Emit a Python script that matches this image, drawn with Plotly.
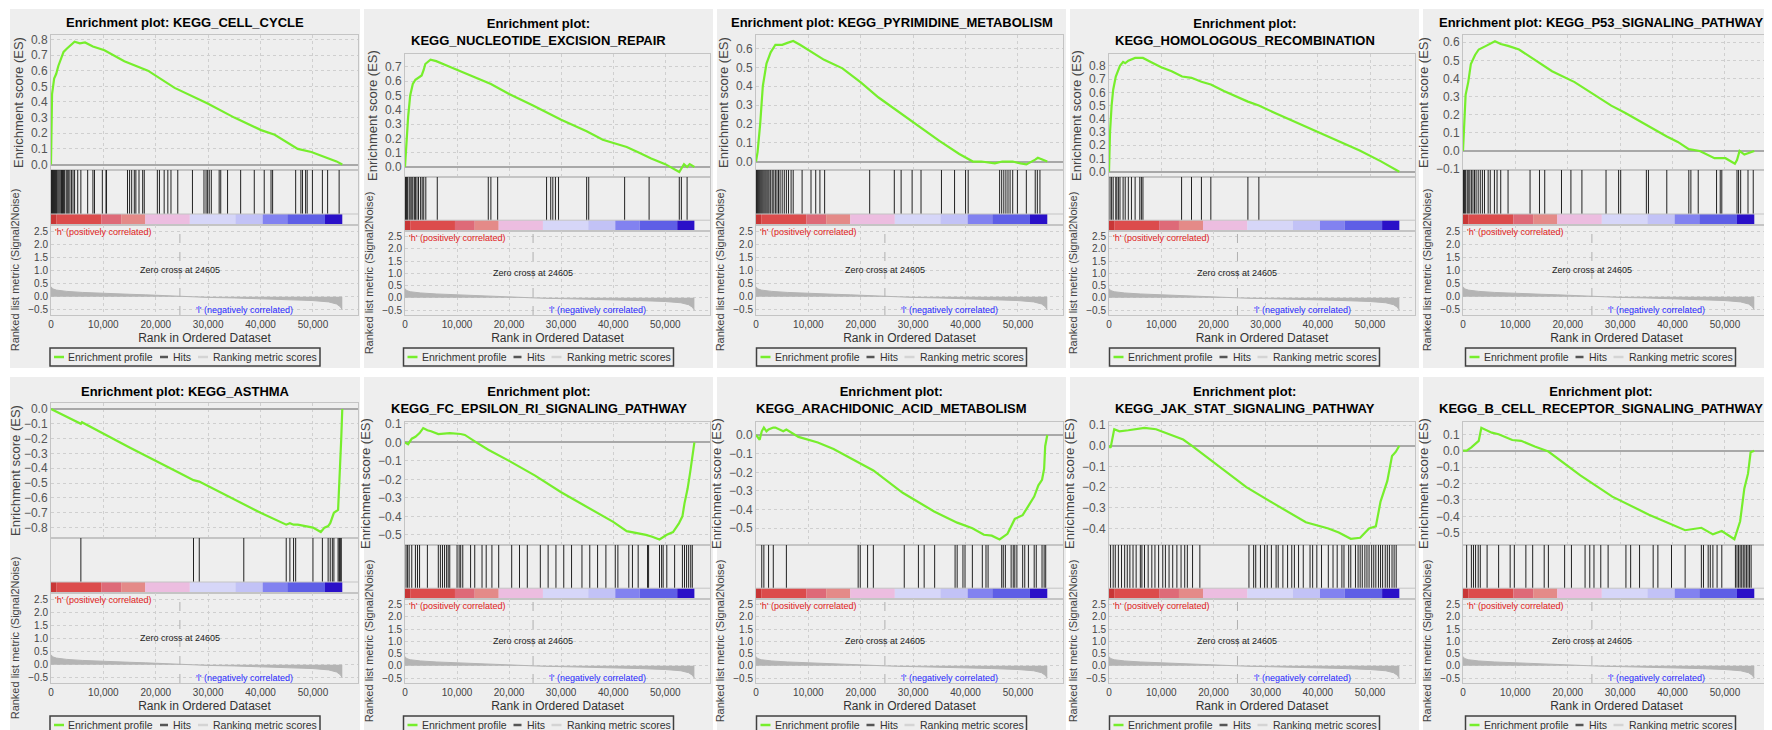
import plotly.graph_objects as go

# GSEA enrichment plots, 2 rows x 5 columns.
# All ranks are written in thousands (K) to keep the lists short.
K = 1000
N_GENES = 55.6          # end of the ranked list (thousands)
X_MAX = 58.6            # right edge of the rank axis (thousands)
ZERO_CROSS = 24605

TITLES = [
    "Enrichment plot: KEGG_CELL_CYCLE",
    "Enrichment plot:<br>KEGG_NUCLEOTIDE_EXCISION_REPAIR",
    "Enrichment plot: KEGG_PYRIMIDINE_METABOLISM",
    "Enrichment plot:<br>KEGG_HOMOLOGOUS_RECOMBINATION",
    "Enrichment plot: KEGG_P53_SIGNALING_PATHWAY",
    "Enrichment plot: KEGG_ASTHMA",
    "Enrichment plot:<br>KEGG_FC_EPSILON_RI_SIGNALING_PATHWAY",
    "Enrichment plot:<br>KEGG_ARACHIDONIC_ACID_METABOLISM",
    "Enrichment plot:<br>KEGG_JAK_STAT_SIGNALING_PATHWAY",
    "Enrichment plot:<br>KEGG_B_CELL_RECEPTOR_SIGNALING_PATHWAY",
]
LEGEND_NAMES = ["Enrichment profile", "Hits", "Ranking metric scores"]

# ---- running enrichment score (rank in thousands, ES) ----
CC_RANK = [0, 0.2, 0.6, 1.0, 1.4, 1.9, 2.4, 3.0, 3.6, 4.5, 5.5, 6.5, 8.0, 10.2, 14, 18.5,
           23.6, 29.9, 35, 40.1, 42.7, 45, 47.1, 49.7, 52.9, 54.5, 55.6]
CC_ES = [0, 0.45, 0.55, 0.58, 0.63, 0.67, 0.72, 0.74, 0.76, 0.785, 0.775, 0.78, 0.755, 0.73,
         0.66, 0.60, 0.49, 0.39, 0.30, 0.22, 0.19, 0.14, 0.10, 0.08, 0.04, 0.02, 0.0]

NER_RANK = [0, 0.3, 0.6, 1.0, 1.5, 2.0, 2.5, 3.2, 3.6, 3.9, 4.9, 6.0, 8.0, 10, 13, 16.5, 20,
            24.6, 30, 34.9, 38, 42.6, 45, 47.3, 50, 52.7, 53.6, 54.2, 54.7, 55.6]
NER_ES = [0, 0.2, 0.35, 0.5, 0.58, 0.61, 0.62, 0.64, 0.68, 0.72, 0.75, 0.74, 0.71, 0.68, 0.63,
          0.58, 0.51, 0.43, 0.33, 0.25, 0.19, 0.14, 0.10, 0.06, 0.02, -0.035, 0.02, 0.0, 0.02, 0.0]

PYR_RANK = [0, 0.3, 0.8, 1.3, 2.0, 2.8, 3.7, 5.0, 6.0, 7.1, 8.4, 10.5, 13, 16.5, 20, 23.4, 28,
            31.9, 35, 38.8, 41.4, 43, 45.6, 47, 49, 50.5, 51.6, 53.3, 53.8, 55.6]
PYR_ES = [0, 0.05, 0.2, 0.4, 0.52, 0.58, 0.62, 0.62, 0.63, 0.64, 0.62, 0.585, 0.54, 0.495,
          0.42, 0.34, 0.25, 0.17, 0.11, 0.04, 0.0, 0.0, -0.01, 0.0, 0.0, -0.01, -0.015, 0.01,
          0.02, 0.0]

HR_RANK = [0, 0.2, 0.5, 0.8, 1.3, 1.8, 2.1, 2.7, 3.1, 3.7, 4.3, 5.0, 5.9, 6.5, 8, 10, 12, 14,
           15.8, 17.7, 19.5, 22, 26.6, 28.7, 32, 36, 40, 44, 48, 52, 55.6]
HR_ES = [0, 0.30, 0.5, 0.62, 0.72, 0.78, 0.80, 0.83, 0.82, 0.84, 0.85, 0.86, 0.86, 0.86, 0.83,
         0.79, 0.76, 0.72, 0.71, 0.68, 0.66, 0.61, 0.53, 0.50, 0.44, 0.37, 0.30, 0.23, 0.16,
         0.08, 0.0]

P53_RANK = [0, 0.1, 0.5, 1.0, 1.5, 2.3, 3.0, 4.4, 6.1, 7.2, 8.6, 10.7, 12.8, 14.2, 17, 21.3, 25,
            28.3, 31, 34.6, 38.9, 41, 43.1, 45.2, 48, 50.1, 51.9, 52.3, 52.8, 53.7, 54.7, 55.6]
P53_ES = [0, 0.05, 0.31, 0.38, 0.48, 0.53, 0.56, 0.58, 0.605, 0.59, 0.58, 0.56, 0.52, 0.49,
          0.44, 0.38, 0.31, 0.25, 0.21, 0.15, 0.08, 0.05, 0.01, 0.0, -0.04, -0.04, -0.07, -0.05,
          0.0, -0.02, -0.01, 0.0]

AST_RANK = [0, 5.7, 5.9, 15, 25, 27.2, 28.3, 36.8, 40, 44.9, 45.6, 46.3, 47.1, 50, 51.5, 52.2,
            52.9, 53.3, 53.7, 54.0, 54.8, 55.0, 55.2, 55.4, 55.6]
AST_ES = [0, -0.1, -0.09, -0.26, -0.44, -0.48, -0.49, -0.64, -0.70, -0.78, -0.77, -0.78, -0.78,
          -0.80, -0.83, -0.80, -0.79, -0.77, -0.72, -0.70, -0.68, -0.55, -0.37, -0.2, 0.0]

FCER_RANK = [0, 0.6, 1.3, 2.0, 2.8, 3.5, 4.3, 5, 6.4, 8.6, 10.7, 11.5, 13.7, 16, 20, 25, 30,
             36.8, 40, 42.6, 44.8, 46.3, 47.5, 48.9, 50.3, 51.5, 52.6, 53.3, 53.7, 54.3, 54.8,
             55.2, 55.6]
FCER_ES = [0, -0.01, 0.02, 0.03, 0.05, 0.077, 0.065, 0.06, 0.045, 0.05, 0.045, 0.04, 0.0, -0.04,
           -0.10, -0.18, -0.27, -0.38, -0.43, -0.48, -0.49, -0.50, -0.51, -0.525, -0.50, -0.485,
           -0.44, -0.40, -0.33, -0.25, -0.16, -0.08, 0.0]

ARA_RANK = [0, 0.7, 1.1, 1.5, 2.0, 2.4, 3.3, 3.7, 5.2, 5.8, 8.1, 11.8, 14.8, 19.9, 22.4, 28, 34,
            38.4, 41.3, 43.5, 45, 46.5, 47.6, 48, 49.4, 50.9, 52, 53.1, 53.9, 54.6, 55.0, 55.2,
            55.6]
ARA_ES = [0, -0.025, 0.02, 0.04, 0.02, 0.03, 0.04, 0.04, 0.02, 0.03, -0.01, -0.04, -0.075,
          -0.155, -0.19, -0.31, -0.41, -0.47, -0.50, -0.535, -0.54, -0.56, -0.54, -0.53, -0.45,
          -0.43, -0.38, -0.33, -0.27, -0.24, -0.18, -0.06, 0.0]

JAK_RANK = [0, 0.3, 1.0, 2.0, 3.7, 5.0, 6.8, 9.0, 11.6, 14.2, 15.9, 21.1, 26.3, 31.6, 37.7, 42,
            44, 46.3, 48.1, 49.8, 51.1, 52, 53.3, 54.2, 54.9, 55.6]
JAK_ES = [0, -0.01, 0.08, 0.07, 0.075, 0.08, 0.087, 0.08, 0.055, 0.03, 0.0, -0.1, -0.2, -0.28,
          -0.37, -0.40, -0.42, -0.45, -0.445, -0.40, -0.39, -0.27, -0.17, -0.05, -0.03, 0.0]

BCR_RANK = [0, 0.7, 1.6, 2.4, 3.0, 3.5, 4.2, 5.5, 6.8, 9.4, 11.1, 13.7, 16.3, 22.4, 28.5, 35.5,
            42.4, 44.6, 45.5, 47.7, 49.4, 51.8, 52.9, 53.7, 54.4, 54.9, 55.6]
BCR_ES = [0, 0.0, 0.02, 0.04, 0.06, 0.14, 0.13, 0.11, 0.10, 0.065, 0.06, 0.025, -0.005, -0.15,
          -0.28, -0.39, -0.485, -0.475, -0.47, -0.51, -0.49, -0.54, -0.43, -0.23, -0.14, -0.01,
          0.0]

# ---- gene set members in the ranked list (thousands) ----
CC_HITS = [0.1, 0.2, 0.3, 0.4, 0.5, 0.6, 0.7, 0.8, 0.9, 1.0, 1.1, 1.3, 1.5, 1.7, 1.9, 2.0, 2.2,
           2.4, 2.6, 2.9, 3.1, 3.3, 3.6, 3.9, 4.2, 4.5, 5.1, 5.7, 7.0, 8.0, 8.3, 9.8, 10.5, 10.6,
           14.6, 15.0, 15.4, 15.9, 16.2, 16.8, 17.5, 17.8, 20.3, 20.7, 21.6, 22.3, 22.9, 24.2,
           27.0, 29.2, 29.6, 29.9, 30.2, 30.6, 32.1, 32.4, 33.7, 36.2, 38.8, 40.7, 42.0, 42.3,
           46.7, 47.7, 48.0, 48.6, 48.9, 49.9, 51.8, 52.8, 55.0]
NER_HITS = [0.1, 0.3, 0.5, 0.8, 1.0, 1.3, 1.5, 1.8, 2.0, 2.3, 2.6, 3.0, 3.3, 3.6, 4.0, 6.2,
            16.0, 16.5, 17.8, 27.2, 28.0, 28.4, 28.9, 29.5, 34.9, 35.3, 42.2, 46.9, 52.7, 53.1,
            54.2]
PYR_HITS = [0.1, 0.3, 0.5, 0.7, 0.9, 1.1, 1.3, 1.5, 1.7, 1.9, 2.1, 2.3, 2.5, 2.8, 3.1, 3.4, 3.7,
            4.0, 4.3, 4.6, 5.0, 5.4, 5.8, 6.2, 6.7, 7.1, 8.8, 10.5, 11.4, 12.2, 13.1, 21.7, 26.4,
            27.7, 29.8, 31.5, 35.4, 37.9, 40.0, 40.5, 46.5, 46.9, 47.3, 47.7, 48.1, 48.5, 49.0,
            49.9, 51.6, 53.3, 53.7, 54.2]
HR_HITS = [0.2, 0.5, 0.8, 1.3, 1.5, 1.8, 2.1, 2.7, 3.1, 3.7, 4.3, 5.0, 5.9, 6.2, 6.5, 13.9,
           15.8, 17.7, 19.5, 26.6, 28.7]
P53_HITS = [0.1, 0.3, 0.5, 0.8, 1.0, 1.3, 1.6, 1.9, 2.2, 2.5, 2.9, 3.3, 3.7, 4.1, 4.8, 5.2, 6.0,
            6.5, 7.2, 8.6, 12.8, 14.6, 15.6, 18.8, 20.6, 22.7, 27.3, 29.7, 30.1, 35.0, 35.4, 38.9,
            43.1, 43.5, 44.9, 48.4, 49.1, 49.4, 52.3, 52.6, 53.0, 54.4, 55.4]
AST_HITS = [5.7, 27.2, 28.3, 36.8, 44.9, 45.6, 46.3, 46.7, 50.0, 51.8, 52.9, 53.3, 53.7, 54.0,
            54.8, 55.0, 55.1, 55.3, 55.4]
FCER_HITS = [0.2, 0.5, 0.8, 1.3, 2.0, 2.4, 2.8, 4.3, 6.4, 6.8, 7.2, 7.6, 8.0, 8.3, 8.6, 10.0,
             10.4, 10.7, 11.1, 12.6, 13.4, 14.8, 15.6, 16.7, 18.0, 20.5, 22.0, 23.5, 26.0, 27.5,
             29.0, 30.5, 32.0, 34.0, 35.5, 37.0, 38.6, 40.4, 40.9, 43.0, 43.7, 44.8, 46.6, 46.8,
             48.9, 49.3, 49.6, 50.3, 51.8, 53.3, 53.7, 54.1, 54.5, 54.9, 55.2]
ARA_HITS = [1.1, 1.5, 2.4, 3.3, 5.8, 19.5, 19.9, 21.3, 22.4, 28.3, 31.0, 32.1, 34.1, 38.0, 38.4,
            39.5, 39.9, 41.3, 43.2, 43.9, 44.3, 46.9, 47.2, 47.6, 48.7, 49.1, 49.4, 49.8, 50.9,
            51.3, 52.0, 53.1, 53.5, 54.6, 55.0, 55.3]
JAK_HITS = [0.3, 0.8, 1.2, 1.8, 2.4, 3.0, 3.5, 4.0, 4.6, 5.2, 6.0, 6.3, 6.8, 7.5, 8.2, 8.8, 9.5,
            10.3, 10.8, 11.5, 12.2, 13.0, 13.8, 14.5, 15.0, 16.0, 17.4, 26.8, 27.7, 28.1, 29.0,
            29.8, 30.3, 31.1, 32.0, 32.4, 33.3, 34.2, 35.0, 35.5, 36.3, 37.2, 38.5, 39.0, 39.8,
            40.7, 42.0, 42.9, 43.7, 44.6, 45.0, 45.9, 46.3, 47.2, 47.7, 48.1, 48.5, 49.0, 49.4,
            49.8, 50.3, 50.7, 51.1, 51.6, 52.0, 52.4, 52.9, 53.3, 53.7, 54.2, 54.6, 55.0]
BCR_HITS = [0.7, 1.6, 2.0, 2.4, 2.9, 3.3, 4.6, 6.8, 9.0, 9.8, 12.0, 13.3, 15.5, 16.3, 19.4,
            20.7, 23.3, 24.2, 25.0, 26.3, 27.7, 31.1, 32.0, 33.7, 36.3, 37.2, 39.8, 42.4, 45.5,
            45.9, 46.8, 47.2, 47.7, 48.5, 49.4, 52.0, 52.3, 52.6, 52.9, 53.2, 53.5, 53.8, 54.1,
            54.4, 54.7, 55.0]

# ---- ranked list metric (same ranked list in every panel) ----
METRIC_RANK = [0, 0.3, 1, 3, 6, 10, 15, 18, 20, 24.6, 27, 30, 35, 40, 45, 50, 53, 54.5, 55.2, 55.6]
METRIC_VALUE = [0.38, 0.30, 0.25, 0.20, 0.16, 0.12, 0.09, 0.07, 0.05, 0.0, -0.02, -0.03, -0.05,
                -0.08, -0.11, -0.15, -0.20, -0.28, -0.38, -0.50]

# ---- colour band under the hits ----
BAND_EDGES = [0, 1.0, 9.6, 13.4, 18.0, 26.5, 35.2, 40.4, 45.1, 52.3, N_GENES]
BAND_COLORS = ["#c83636", "#dc4c4c", "#de6a78", "#e48a88", "#ecbde0", "#d6d6f8", "#c2c2f6",
               "#8282f0", "#5e5ee6", "#2a10c8"]

PANEL_RANKS = [CC_RANK, NER_RANK, PYR_RANK, HR_RANK, P53_RANK,
               AST_RANK, FCER_RANK, ARA_RANK, JAK_RANK, BCR_RANK]
PANEL_ES = [CC_ES, NER_ES, PYR_ES, HR_ES, P53_ES, AST_ES, FCER_ES, ARA_ES, JAK_ES, BCR_ES]
PANEL_HITS = [CC_HITS, NER_HITS, PYR_HITS, HR_HITS, P53_HITS,
              AST_HITS, FCER_HITS, ARA_HITS, JAK_HITS, BCR_HITS]

# y range of each ES plot
ES_RANGES = [(-0.035, 0.828), (-0.07, 0.79), (-0.045, 0.672), (-0.04, 0.89), (-0.105, 0.64),
             (-0.87, 0.04), (-0.555, 0.11), (-0.59, 0.07), (-0.48, 0.115), (-0.575, 0.175)]

# ================= layout (pixels) =================
W, H = 1772, 730
COL_AXIS = [(43, 350), (397, 702), (748, 1055), (1101, 1407), (1455, 1762)]
COL_PANEL = [(2, 352), (356, 705), (709, 1058), (1062, 1411), (1415, 1770)]
ROW_TOP = [0, 368]
PANEL_BG = "#eeeeee"
FONT = "Liberation Sans, Arial, sans-serif"
GREEN = "#76ee2c"
LEGEND_COLORS = [GREEN, "#555555", "#d4d4d4"]
# legend layout relative to the box's left edge: line start, line end, text start
LEGEND_SLOTS = [(4, 14, 16), (110, 118, 121), (148, 158, 161)]
LEGEND_W = 270


def xdom(a, b):
    return [a / W, b / W]


def ydom(top, bottom):
    return [1 - bottom / H, 1 - top / H]


def px(xp):
    return xp / W


def py(yp):
    return 1 - yp / H


fig = go.Figure()
layout = dict(width=W, height=H, margin=dict(l=0, r=0, t=0, b=0, autoexpand=False),
              paper_bgcolor="white", plot_bgcolor="white", showlegend=False,
              font=dict(family=FONT, color="#444"))
shapes, annotations = [], []

grid = dict(showgrid=True, gridcolor="#cfcfcf", griddash="dot", gridwidth=1)
frame = dict(showline=True, linecolor="#c4c4c4", linewidth=1, mirror=True)

for i in range(10):
    row, col = divmod(i, 5)
    top = ROW_TOP[row]
    ax0, ax1 = COL_AXIS[col]
    p0, p1 = COL_PANEL[col]
    two_lines = "<br>" in TITLES[i]
    if two_lines:
        es_box, hit_box, rk_box = (top + 46, top + 169), (top + 169, top + 223), (top + 223, top + 307)
    else:
        es_box, hit_box, rk_box = (top + 27, top + 162), (top + 162, top + 217), (top + 217, top + 307)

    n1, n2, n3 = 3 * i + 1, 3 * i + 2, 3 * i + 3

    # panel background
    shapes.append(dict(type="rect", xref="paper", yref="paper", layer="below",
                       x0=px(p0), x1=px(p1), y0=py(top + 360), y1=py(top + 1),
                       fillcolor=PANEL_BG, line=dict(width=0)))

    ranks = [r * K for r in PANEL_RANKS[i]]

    # --- enrichment score ---
    fig.add_trace(go.Scatter(x=ranks, y=PANEL_ES[i], mode="lines", name=LEGEND_NAMES[0],
                             line=dict(color=GREEN, width=2.2),
                             xaxis=f"x{n1}", yaxis=f"y{n1}"))
    layout[f"xaxis{n1}"] = dict(domain=xdom(ax0, ax1), anchor=f"y{n1}", range=[0, X_MAX * K],
                                dtick=10000, showticklabels=False, ticks="", zeroline=False,
                                **grid, **frame)
    layout[f"yaxis{n1}"] = dict(domain=ydom(*es_box), anchor=f"x{n1}", range=list(ES_RANGES[i]),
                                dtick=0.1, tickformat=".1f", ticks="", **grid, **frame,
                                zeroline=True, zerolinecolor="#a8a8a8", zerolinewidth=2,
                                tickfont=dict(size=12, color="#555"),
                                title=dict(text="Enrichment score (ES)", standoff=4,
                                           font=dict(size=13, color="#444")))

    # --- hits + colour band ---
    hx, hy = [], []
    for h in PANEL_HITS[i]:
        hx += [h * K, h * K, None]
        hy += [0.2, 1.0, None]
    fig.add_trace(go.Scatter(x=hx, y=hy, mode="lines", name=LEGEND_NAMES[1],
                             line=dict(color="#222", width=1),
                             xaxis=f"x{n2}", yaxis=f"y{n2}"))
    starts = [e * K for e in BAND_EDGES[:-1]]
    widths = [(b - a) * K for a, b in zip(BAND_EDGES[:-1], BAND_EDGES[1:])]
    fig.add_trace(go.Bar(y=[0.1] * len(widths), x=widths, base=starts, orientation="h",
                         width=0.2, marker=dict(color=BAND_COLORS, line=dict(width=0)),
                         hoverinfo="skip", xaxis=f"x{n2}", yaxis=f"y{n2}"))
    layout[f"xaxis{n2}"] = dict(domain=xdom(ax0, ax1), anchor=f"y{n2}", range=[0, X_MAX * K],
                                showticklabels=False, ticks="", showgrid=False,
                                zeroline=False, **frame)
    layout[f"yaxis{n2}"] = dict(domain=ydom(*hit_box), anchor=f"x{n2}", range=[0, 1],
                                showticklabels=False, ticks="", showgrid=False,
                                zeroline=False, **frame)
    shapes.append(dict(type="line", xref=f"x{n2}", yref=f"y{n2}", x0=0, x1=X_MAX * K,
                       y0=0.2, y1=0.2, line=dict(color="#c4c4c4", width=1)))

    # --- ranked list metric ---
    fig.add_trace(go.Scatter(x=[r * K for r in METRIC_RANK], y=METRIC_VALUE, mode="lines",
                             name=LEGEND_NAMES[2], fill="tozeroy", fillcolor="#b4b4b4",
                             line=dict(color="#b4b4b4", width=1),
                             xaxis=f"x{n3}", yaxis=f"y{n3}"))
    layout[f"xaxis{n3}"] = dict(domain=xdom(ax0, ax1), anchor=f"y{n3}", range=[0, X_MAX * K],
                                dtick=10000, tickformat=",", ticks="", zeroline=False,
                                **grid, **frame, tickfont=dict(size=10, color="#444"),
                                title=dict(text="Rank in Ordered Dataset", standoff=4,
                                           font=dict(size=12, color="#333")))
    layout[f"yaxis{n3}"] = dict(domain=ydom(*rk_box), anchor=f"x{n3}", range=[-0.7, 2.73],
                                tickvals=[-0.5, 0, 0.5, 1, 1.5, 2, 2.5], tickformat=".1f",
                                ticks="", zeroline=False, **grid, **frame,
                                tickfont=dict(size=10, color="#444"),
                                title=dict(text="Ranked list metric (Signal2Noise)", standoff=6,
                                           font=dict(size=11, color="#444")))
    shapes.append(dict(type="line", xref=f"x{n3}", yref=f"y{n3} domain", x0=ZERO_CROSS,
                       x1=ZERO_CROSS, y0=0, y1=1, line=dict(color="#b0b0b0", width=1, dash="dash")))
    annotations.append(dict(xref=f"x{n3}", yref=f"y{n3}", x=ZERO_CROSS, y=1.03,
                            xanchor="center", text=f"Zero cross at {ZERO_CROSS}",
                            showarrow=False, font=dict(size=9, color="#222")))
    annotations.append(dict(xref=f"x{n3}", yref=f"y{n3} domain", x=0, y=1, xanchor="left",
                            yanchor="top", xshift=2, text="'h' (positively correlated)",
                            showarrow=False, font=dict(size=9, color="#e02020")))
    annotations.append(dict(xref=f"x{n3}", yref=f"y{n3}", x=37000, y=-0.5, xanchor="center",
                            text="'l' (negatively correlated)", showarrow=False,
                            font=dict(size=9, color="#2828ff")))

    # --- title ---
    annotations.append(dict(xref="paper", yref="paper", x=px((p0 + p1) / 2), xanchor="center",
                            y=py(top + (24 if two_lines else 15)), yanchor="middle",
                            text=f"<b>{TITLES[i]}</b>", showarrow=False,
                            font=dict(size=13, color="black")))

    # --- legend box (one per panel, as in the GSEA images) ---
    lx = (p0 + p1) / 2 - LEGEND_W / 2
    ly = top + 349
    shapes.append(dict(type="rect", xref="paper", yref="paper", x0=px(lx), x1=px(lx + LEGEND_W),
                       y0=py(top + 358), y1=py(top + 340),
                       line=dict(color="#404040", width=1.5)))
    for (l0, l1, t0), name, color in zip(LEGEND_SLOTS, LEGEND_NAMES, LEGEND_COLORS):
        shapes.append(dict(type="line", xref="paper", yref="paper", x0=px(lx + l0),
                           x1=px(lx + l1), y0=py(ly), y1=py(ly),
                           line=dict(color=color, width=2.5)))
        annotations.append(dict(xref="paper", yref="paper", x=px(lx + t0), y=py(ly),
                                xanchor="left", yanchor="middle", text=name, showarrow=False,
                                font=dict(size=10.5, color="#333")))

layout["shapes"] = shapes
layout["annotations"] = annotations
fig.update_layout(**layout)

fig.write_html("out.html")
